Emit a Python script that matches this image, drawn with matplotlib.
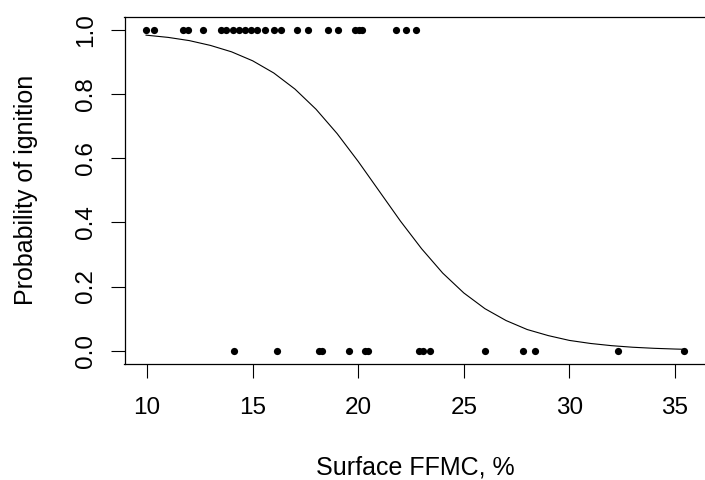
import matplotlib
matplotlib.use("Agg")
import matplotlib.pyplot as plt

# Observed ignition outcomes (1 = ignited, 0 = not ignited)
ffmc_ignited = [9.95, 10.35, 11.7, 11.95, 12.65, 13.5, 13.75, 14.05, 14.35, 14.65,
                14.9, 15.2, 15.6, 16.0, 16.35, 17.1, 17.6, 18.55, 19.05, 19.85,
                20.05, 20.2, 21.8, 22.25, 22.75]
ffmc_not_ignited = [14.1, 16.15, 18.15, 18.3, 19.55, 20.3, 20.45, 22.9, 23.05, 23.4,
                    26.0, 27.8, 28.35, 32.3, 35.45]

# Fitted probability curve
curve_x = [9.95, 11, 12, 13, 14, 15, 16, 17, 18, 19, 20, 21, 22, 23, 24, 25, 26,
           27, 28, 29, 30, 31, 32, 33, 34, 35, 35.45]
curve_p = [0.984, 0.977, 0.967, 0.952, 0.932, 0.904, 0.866, 0.816, 0.753, 0.677,
           0.590, 0.497, 0.404, 0.318, 0.242, 0.180, 0.131, 0.094, 0.066, 0.047,
           0.032, 0.0225, 0.0156, 0.0107, 0.0074, 0.0051, 0.0043]

xticks = [10, 15, 20, 25, 30, 35]
yticks = [0.0, 0.2, 0.4, 0.6, 0.8, 1.0]
ytick_labels = ["0.0", "0.2", "0.4", "0.6", "0.8", "1.0"]

plt.rcParams['font.family'] = ['Liberation Sans', 'DejaVu Sans']
FS_TICK = 17.5
FS_LABEL = 18

W, H = 705, 480
fig = plt.figure(figsize=(W / 100, H / 100), dpi=100)
left_px, right_px, top_px, bottom_px = 124.5, 706.0, 17.2, 363.5
ax = fig.add_axes([left_px / W, 1 - bottom_px / H,
                   (right_px - left_px) / W, (bottom_px - top_px) / H])

ax.plot(curve_x, curve_p, color='black', lw=0.8, zorder=2)
ax.plot(ffmc_ignited, [1] * len(ffmc_ignited), 'o', color='black', ms=5.2,
        mec='black', mew=0, zorder=3)
ax.plot(ffmc_not_ignited, [0] * len(ffmc_not_ignited), 'o', color='black', ms=5.2,
        mec='black', mew=0, zorder=3)

xmin, xmax = min(ffmc_ignited + ffmc_not_ignited), max(ffmc_ignited + ffmc_not_ignited)
dx = (xmax - xmin) * 0.04
ax.set_xlim(xmin - dx, xmax + dx)
ax.set_ylim(-0.04, 1.04)

ax.set_xticks(xticks)
ax.set_xticklabels([str(t) for t in xticks], fontsize=FS_TICK)
ax.set_yticks(yticks)
ax.set_yticklabels(ytick_labels, fontsize=FS_TICK, rotation=90, va='center')

ax.tick_params(axis='both', direction='out', length=10, width=0.8, color='black')
ax.tick_params(axis='x', pad=14)
ax.tick_params(axis='y', pad=9.8)
for s in ax.spines.values():
    s.set_linewidth(0.9)
    s.set_color('black')

ax.set_xlabel("Surface FFMC, %", fontsize=FS_LABEL)
ax.set_ylabel("Probability of ignition", fontsize=FS_LABEL)
ax.xaxis.label.set_va('baseline')
ax.yaxis.label.set_va('baseline')
ax.xaxis.set_label_coords(0.5, (bottom_px - 475) / (bottom_px - top_px))
ax.yaxis.set_label_coords((33 - left_px) / (right_px - left_px), 0.5)

fig.savefig("out.png", dpi=100, facecolor='white')
